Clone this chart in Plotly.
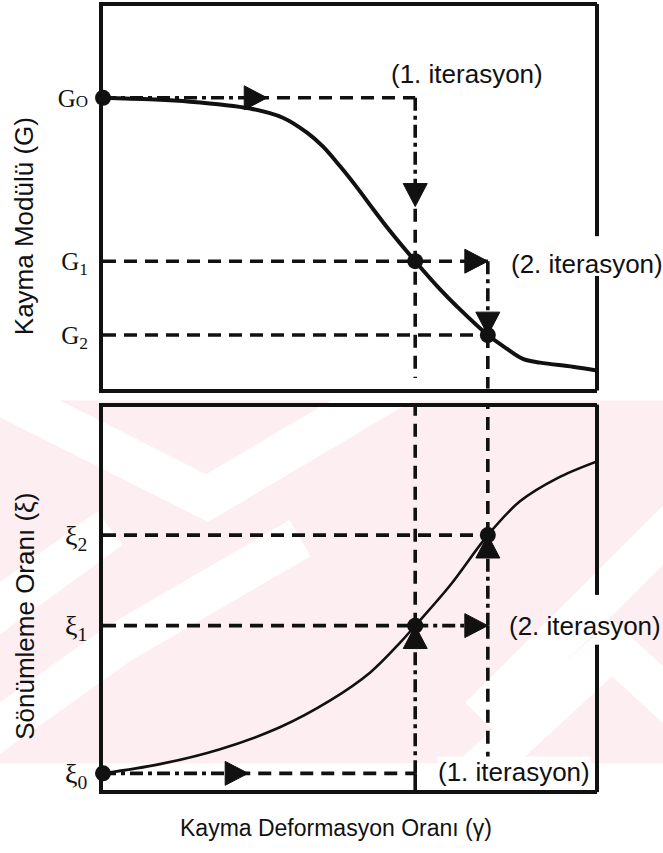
import plotly.graph_objects as go
import numpy as np

W, H = 663, 853

# ---------------- data (schematic units) ----------------
# shear strain axis 0..10 (both panels share it)
gamma_iter = [6.32, 7.79]          # gamma of 1st and 2nd iteration

# shear modulus curve (top panel, 0..10)
gamma_G = [0.0, 1.76, 2.98, 3.64, 4.13, 4.45, 4.80, 5.14, 5.47, 5.81, 6.32,
           6.82, 7.17, 7.79, 8.18, 8.50, 8.85, 9.51, 10.0]
G_vals = [7.60, 7.50, 7.32, 7.08, 6.69, 6.33, 5.81, 5.26, 4.69, 4.12, 3.33,
          2.60, 2.14, 1.40, 1.04, 0.78, 0.68, 0.57, 0.47]
G_levels = [7.60, 3.33, 1.40]      # G0, G1, G2

# damping ratio curve (bottom panel, 0..10)
gamma_D = [0.0, 1.15, 2.37, 3.58, 4.60, 5.41, 6.01, 6.32, 7.02, 7.79, 8.44,
           9.19, 10.0]
D_vals = [0.44, 0.68, 1.07, 1.64, 2.34, 3.07, 3.84, 4.29, 5.33, 6.65, 7.53,
          8.13, 8.57]
D_levels = [0.44, 4.29, 6.65]      # xi0, xi1, xi2

G_ticktext = ["G<span style='font-size:17px'>O</span>", "G<sub>1</sub>", "G<sub>2</sub>"]
D_ticktext = ["ξ<sub>0</sub>", "ξ<sub>1</sub>", "ξ<sub>2</sub>"]

x_title = "Kayma Deformasyon Oranı (γ)"
yG_title = "Kayma Modülü (G)"
yD_title = "Sönümleme Oranı (ξ)"
iter1 = "(1. iterasyon)"
iter2 = "(2. iterasyon)"

# ---------------- layout geometry ----------------
XR = [0, 10]
YR = [0, 10]
xdom = [103 / W, 597 / W]
ydom_top = [1 - 390 / H, 1 - 6 / H]
ydom_bot = [1 - 793 / H, 1 - 408 / H]

px_x = (xdom[1] - xdom[0]) * W / (XR[1] - XR[0])
px_y_top = (ydom_top[1] - ydom_top[0]) * H / (YR[1] - YR[0])
px_y_bot = (ydom_bot[1] - ydom_bot[0]) * H / (YR[1] - YR[0])

INK = "#111111"
LW = 3.6
DASH = "13px,8px"
DASHDOT = "13px,5px,4px,5px"
SANS = "Liberation Sans, Arial, sans-serif"

fig = go.Figure()


def line(xs, ys, panel, dash=DASH, width=LW):
    xa, ya = ("x", "y") if panel == "top" else ("x2", "y2")
    fig.add_trace(go.Scatter(x=xs, y=ys, xaxis=xa, yaxis=ya, mode="lines",
                             line=dict(color=INK, width=width, dash=dash),
                             hoverinfo="skip", showlegend=False))


def arrow(tx, ty, direction, panel, L=23, hw=12):
    py = px_y_top if panel == "top" else px_y_bot
    lx, wx = L / px_x, hw / px_x
    ly, wy = L / py, hw / py
    if direction == "right":
        xs = [tx, tx - lx, tx - lx, tx]
        ys = [ty, ty + wy, ty - wy, ty]
    elif direction == "down":
        xs = [tx, tx - wx, tx + wx, tx]
        ys = [ty, ty + ly, ty + ly, ty]
    else:  # up
        xs = [tx, tx - wx, tx + wx, tx]
        ys = [ty, ty - ly, ty - ly, ty]
    xa, ya = ("x", "y") if panel == "top" else ("x2", "y2")
    fig.add_trace(go.Scatter(x=xs, y=ys, xaxis=xa, yaxis=ya, mode="lines",
                             fill="toself", fillcolor=INK,
                             line=dict(color=INK, width=1),
                             hoverinfo="skip", showlegend=False))


def lerp(a, b, t):
    return a + (b - a) * t


g1, g2 = gamma_iter
G0, G1, G2 = G_levels
D0, D1, D2 = D_levels
x0 = XR[0]

# ---------------- top panel : G ----------------
fig.add_trace(go.Scatter(x=gamma_G, y=G_vals, mode="lines", line_shape="spline",
                         line=dict(color=INK, width=4), hoverinfo="skip",
                         showlegend=False, xaxis="x", yaxis="y"))
# 1st iteration: G0 -> gamma1
a = lerp(x0, g1, 0.49)
line([x0, a], [G0, G0], "top", DASHDOT)
line([a, g1], [G0, G0], "top", DASH)
arrow(lerp(x0, g1, 0.526), G0, "right", "top")
b = lerp(G0, G1, 0.55)
line([g1, g1], [G0, b], "top", DASHDOT)
line([g1, g1], [b, lerp(YR[0], G2, 0.2)], "top", DASH)
arrow(g1, lerp(G0, G1, 0.665), "down", "top")
# G1 level and 2nd iteration
line([x0, g2], [G1, G1], "top", DASH)
arrow(g2, G1, "right", "top")
line([g2, g2], [G1, G2], "top", DASHDOT)
line([g2, g2], [G2, YR[0]], "top", DASH)
arrow(g2, G2, "down", "top")
line([x0, g2], [G2, G2], "top", DASH)
fig.add_trace(go.Scatter(x=[x0, g1, g2], y=[G0, G1, G2], mode="markers",
                         marker=dict(size=16, color=INK), cliponaxis=False,
                         hoverinfo="skip", showlegend=False, xaxis="x", yaxis="y"))

# ---------------- bottom panel : damping ----------------
fig.add_trace(go.Scatter(x=gamma_D, y=D_vals, mode="lines", line_shape="spline",
                         line=dict(color=INK, width=2.6), hoverinfo="skip",
                         showlegend=False, xaxis="x2", yaxis="y2"))
a = lerp(x0, g1, 0.43)
line([x0, a], [D0, D0], "bot", DASHDOT)
line([a, g1], [D0, D0], "bot", DASH)
arrow(lerp(x0, g1, 0.465), D0, "right", "bot")
line([g1, g1], [D0, YR[0]], "bot", "solid")
line([g1, g1], [D0, D1], "bot", DASHDOT)
line([g1, g1], [D1, YR[1]], "bot", DASH)
arrow(g1, D1, "up", "bot")
line([x0, g1], [D1, D1], "bot", DASH)
line([g1, g2], [D1, D1], "bot", DASHDOT)
arrow(g2, D1, "right", "bot")
line([g2, g2], [D1, YR[0]], "bot", DASH)
line([g2, g2], [D1, D2], "bot", DASHDOT)
line([g2, g2], [D2, YR[1]], "bot", DASH)
arrow(g2, D2, "up", "bot")
line([x0, g2], [D2, D2], "bot", DASH)
fig.add_trace(go.Scatter(x=[x0, g1, g2], y=[D0, D1, D2], mode="markers",
                         marker=dict(size=16, color=INK), cliponaxis=False,
                         hoverinfo="skip", showlegend=False, xaxis="x2", yaxis="y2"))

# ---------------- axes ----------------
axis_common = dict(showgrid=False, zeroline=False, showline=True, linecolor=INK,
                   linewidth=4)
fig.update_layout(
    xaxis=dict(domain=xdom, range=XR, anchor="y", mirror=True, showticklabels=False,
               ticks="", **axis_common),
    yaxis=dict(domain=ydom_top, range=YR, anchor="x", tickvals=G_levels,
               ticktext=G_ticktext, ticks="", ticklabelstandoff=6,
               tickfont=dict(family="Liberation Serif", size=25, color=INK),
               **axis_common),
    xaxis2=dict(domain=xdom, range=XR, anchor="y2", mirror=True, showticklabels=False,
                ticks="", **axis_common),
    yaxis2=dict(domain=ydom_bot, range=YR, anchor="x2", tickvals=D_levels,
                ticktext=D_ticktext, ticks="", ticklabelstandoff=6,
                tickfont=dict(family="Liberation Serif", size=28, color=INK),
                **axis_common),
)

shapes = []


def pdom(py, dom_px):
    top, bot = dom_px
    return (bot - py) / (bot - top)


# right borders with gaps for the "(2. iterasyon)" labels
for yr, xr, dom_px, gap in [("y domain", "x domain", (6, 390), (237, 277)),
                            ("y2 domain", "x2 domain", (408, 793), (597, 647))]:
    lo = pdom(gap[1], dom_px)
    hi = pdom(gap[0], dom_px)
    shapes.append(dict(type="line", xref=xr, yref=yr, x0=1, x1=1, y0=-0.005, y1=lo,
                       line=dict(color=INK, width=4), layer="above"))
    shapes.append(dict(type="line", xref=xr, yref=yr, x0=1, x1=1, y0=hi, y1=1.005,
                       line=dict(color=INK, width=4), layer="above"))

# watermark (decorative, below everything)
PINK = "#fdeef1"


def P(x, y):
    return x / W, 1 - y / H


px0, py0 = P(0, 402)
px1, py1 = P(W, 766)
shapes.append(dict(type="rect", xref="paper", yref="paper", x0=px0, x1=px1,
                   y0=py1, y1=py0, fillcolor=PINK, line=dict(width=0), layer="below"))


def polyline_band(pts, t):
    # thick polyline (chevron) as a polygon, pixel coords
    pts = np.array(pts, float)
    left, right = [], []
    n = len(pts)
    for i in range(n):
        if i == 0:
            d = pts[1] - pts[0]
        elif i == n - 1:
            d = pts[-1] - pts[-2]
        else:
            d1 = pts[i] - pts[i - 1]
            d2 = pts[i + 1] - pts[i]
            d = d1 / np.hypot(*d1) + d2 / np.hypot(*d2)
        d = d / np.hypot(*d)
        nrm = np.array([-d[1], d[0]])
        scale = 1.0
        if 0 < i < n - 1:
            d1 = pts[i] - pts[i - 1]
            n1 = np.array([-d1[1], d1[0]]) / np.hypot(*d1)
            scale = 1.0 / max(0.3, abs(np.dot(nrm, n1)))
        left.append(pts[i] + nrm * t / 2 * scale)
        right.append(pts[i] - nrm * t / 2 * scale)
    poly = left + right[::-1]
    poly = [P(x, y) for x, y in poly]
    return "M " + " L ".join(f"{a:.5f},{b:.5f}" for a, b in poly) + " Z"


chevrons = [
    [(-20, 385), (207, 500), (400, 385)],      # big V at the top
    [(450, 800), (612, 650), (720, 750)],      # inverted V at lower right
    [(-20, 745), (120, 645), (300, 540)],
    [(-20, 625), (110, 530)],
    [(480, 720), (680, 520)],
]
for pts in chevrons:
    shapes.append(dict(type="path", xref="paper", yref="paper",
                       path=polyline_band(pts, 42),
                       fillcolor="white", line=dict(width=0), layer="below"))

ann = []


def A(text, x, y, size=26, **kw):
    px, py = P(x, y)
    d = dict(text=text, x=px, y=py, xref="paper", yref="paper", showarrow=False,
             xanchor="center", yanchor="middle",
             font=dict(family=SANS, size=size, color=INK))
    d.update(kw)
    ann.append(d)


A(iter1, 467, 74)
A(iter2, 587, 265)
A(iter2, 585, 628)
A(iter1, 514, 775, bgcolor="white", borderpad=0)
A(yG_title, 24, 227, textangle=-90)
A(yD_title, 25, 619, textangle=-90)
A(x_title, 336, 831, size=23)

fig.update_layout(width=W, height=H, margin=dict(l=0, r=0, t=0, b=0),
                  paper_bgcolor="white", plot_bgcolor="rgba(0,0,0,0)",
                  shapes=shapes, annotations=ann, showlegend=False)

fig.write_html("out.html")
